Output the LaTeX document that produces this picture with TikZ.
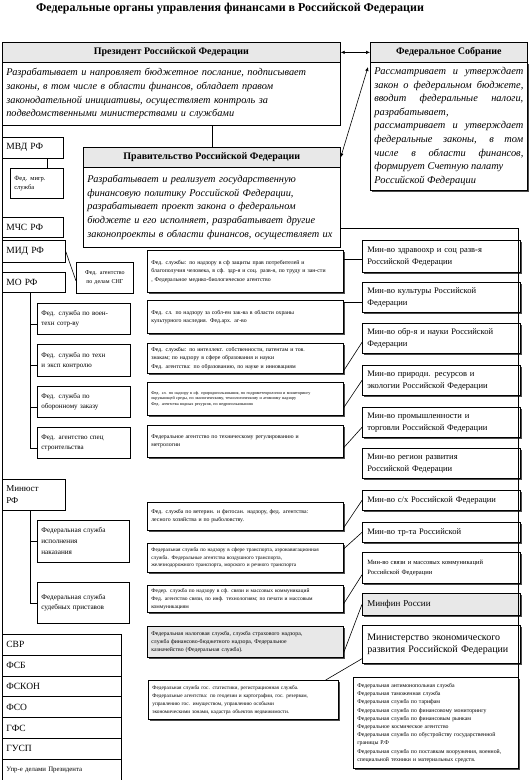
\documentclass[tikz,border=0pt]{standalone}
\usepackage{fontspec}
\setmainfont{Liberation Serif}
\usetikzlibrary{shadows,arrows.meta}

\tikzset{
  hdr/.style={draw, fill=gray!18, anchor=north west, inner sep=0pt, font=\bfseries\fontsize{10}{12}\selectfont},
  desc/.style={draw, fill=white, anchor=north west, inner xsep=4pt, inner ysep=2pt, align=left, font=\itshape\fontsize{10.3}{13.7}\selectfont},
  organ/.style={draw, fill=white, anchor=north west, inner xsep=4pt, inner ysep=1pt, align=left, font=\fontsize{9.5}{11}\selectfont},
  subunit/.style={draw, fill=white, anchor=north west, inner xsep=4pt, inner ysep=1pt, align=left, font=\fontsize{7}{10}\selectfont},
  agency/.style={draw, fill=white, boxshadow, anchor=north west, inner xsep=4pt, inner ysep=1pt, align=left, font=\fontsize{5.8}{8.3}\selectfont},
  ministry/.style={draw, fill=white, boxshadow, anchor=north west, inner xsep=5pt, inner ysep=1pt, align=left, font=\fontsize{8.5}{12}\selectfont},
  boxshadow/.style={drop shadow={shadow xshift=1.2pt, shadow yshift=-1.2pt, fill=black!70, opacity=1}},
  link/.style={line width=0.6pt},
  twoway/.style={link, {Latex[length=4pt,width=3.5pt]}-{Latex[length=4pt,width=3.5pt]}},
}

\begin{document}
\begin{tikzpicture}[x=1pt, y=-1pt, line width=0.7pt]
\useasboundingbox (0,0) rectangle (530,780);

% title
\node[font=\bfseries\fontsize{12}{14}\selectfont] (title) at (230,9) {Федеральные органы управления финансами в Российской Федерации};

% President, Federal Assembly, Government
\node[hdr, minimum width=338pt, minimum height=20pt] (presH) at (2,42) {Президент Российской Федерации};
\node[desc, text width=330pt, minimum height=63pt] (presT) at (2,62) {Разрабатывает и напровляет бюджетное послание, подписывает\\законы, в том числе в области финансов, обладает правом\\законодательной инициативы, осуществляет контроль за\\подведомственными министерствами и службами};

\node[hdr, minimum width=157pt, minimum height=20pt] (asmH) at (370,42) {Федеральное Собрание};
\node[desc, boxshadow, align=justify, text width=149pt, minimum height=128pt, font=\itshape\fontsize{10.4}{13.6}\selectfont] (asmT) at (370,62) {Рассматривает и утверждает\linebreak закон о федеральном бюджете,\linebreak вводит федеральные налоги,\linebreak разрабатывает,\\рассматривает и утверждает\linebreak федеральные законы, в том\linebreak числе в области финансов,\linebreak формирует Счетную палату\\Российской Федерации};

\node[hdr, minimum width=257pt, minimum height=20pt] (govH) at (83,147) {Правительство Российской Федерации};
\node[desc, text width=249pt, minimum height=80pt] (govT) at (83,167) {Разрабатывает и реализует государственную\\финансовую политику Российской Федерации,\\разрабатывает проект закона о федеральном\\бюджете и его исполняет, разрабатывает другие\\законопроекты в области финансов, осуществляет их};

\draw[twoway] (presH.east) -- (asmH.west);
\draw[twoway] ([shift={(-2pt,-5pt)}]asmT.north west) -- (govH.east);
\draw[link] (govH.north |- presT.south) -- (govH.north);

% ministries and services under the President
\node[organ, text width=53pt, minimum height=21pt] (mvd) at (2,137) {МВД РФ};
\node[subunit, text width=45pt, minimum height=30pt, font=\fontsize{6.5}{9}\selectfont] (fms) at (10,168) {Фед. мигр.\\служба};
\node[organ, text width=53pt, minimum height=20pt] (mchs) at (2,217) {МЧС РФ};
\node[organ, text width=55pt, minimum height=22pt] (mid) at (2,240) {МИД РФ};
\node[subunit, text width=49pt, minimum height=31pt, align=center, font=\fontsize{6}{8.5}\selectfont] (cis) at (76,262) {Фед. агентство\\по делам СНГ};
\node[organ, text width=55pt, minimum height=20pt] (mo) at (2,272) {МО РФ};
\node[subunit, text width=85pt, minimum height=31pt] (mo1) at (37,303) {Фед. служба по воен-\\техн сотр-ву};
\node[subunit, text width=85pt, minimum height=32pt] (mo2) at (37,344) {Фед. служба по техн\\и эксп контролю};
\node[subunit, text width=85pt, minimum height=31pt] (mo3) at (37,386) {Фед. служба по\\оборонному заказу};
\node[subunit, text width=85pt, minimum height=31pt] (mo4) at (37,427) {Фед. агентство спец\\строительства};
\node[organ, text width=55pt, minimum height=31pt, font=\fontsize{9}{12}\selectfont] (minjust) at (2,479) {Минюст\\РФ};
\node[subunit, text width=84pt, minimum height=42pt, font=\fontsize{7.2}{11}\selectfont] (mj1) at (37,520) {Федеральная служба\\исполнения\\наказания};
\node[subunit, text width=84pt, minimum height=41pt, font=\fontsize{7.2}{10}\selectfont] (mj2) at (37,582) {Федеральная служба\\судебных приставов};

\foreach \t [count=\i] in {СВР,ФСБ,ФСКОН,ФСО,ГФС,ГУСП}
  \node[organ, text width=111pt, minimum height=20.8pt] (s\i) at (2,{634+(\i-1)*20.8}) {\t};
\node[organ, text width=111pt, minimum height=20.8pt, font=\fontsize{6.8}{8}\selectfont] (s7) at (2,758.8) {Упр-е делами Президента};

\draw[link] (presT.south west) -- (s1.north west);
\draw[link] ([xshift=10pt]fms.north) -- ([xshift=10pt]fms.north |- mvd.south);
\draw[link] (mid.east) -- ([yshift=-3pt]cis.west);
\foreach \b in {mo1,mo2,mo3,mo4}
  \draw[link] ([xshift=-4pt]mo.south) |- ([yshift=-5pt]\b.west);
\foreach \b in {mj1,mj2}
  \draw[link] ([xshift=-4pt]minjust.south) |- (\b.west);

% federal services and agencies
\node[agency, text width=188pt, minimum height=42pt] (ag1) at (147,250) {Фед. службы: по надзору в сф защиты прав потребителей и\\благополучия человека, в сф. здр-я и соц. разв-я, по труду и зан-сти\\, Федеральное медико-биологическое агентство};
\node[agency, text width=188pt, minimum height=33pt] (ag2) at (147,300) {Фед. сл. по надзору за собл-ем зак-ва в области охраны\\культурного наследия. Фед.арх. аг-во};
\node[agency, text width=188pt, minimum height=30pt] (ag3) at (147,343) {Фед. службы: по интеллект. собственности, патентам и тов.\\знакам; по надзору в сфере образования и науки\\Фед. агентства: по образованию, по науке и инновациям};
\node[agency, text width=188pt, minimum height=33pt, font=\fontsize{4.2}{5.3}\selectfont] (ag4) at (147,382) {Фед. сл. по надзору в сф. природопользования, по гидрометеорологии и мониторингу\\окружающей среды, по экологическому, технологическому и атомному надзору\\Фед. агентства водных ресурсов, по недропользованию};
\node[agency, text width=188pt, minimum height=32pt] (ag5) at (147,425) {Федеральное агентство по техническому регулированию и\\метрологии};
\node[agency, text width=188pt, minimum height=28pt] (ag6) at (147,502) {Фед. служба по ветерин. и фитосан. надзору, фед. агентства:\\лесного хозяйства и по рыболовству.};
\node[agency, text width=188pt, minimum height=29pt, font=\fontsize{5.3}{7.5}\selectfont] (ag7) at (147,543) {Федеральная служба по надзору в сфере транспорта, аэронавигационная\\служба. Федеральные агентства воздушного транспорта,\\железнодорожного транспорта, морского и речного транспорта};
\node[agency, text width=188pt, minimum height=27pt, font=\fontsize{5.5}{7.8}\selectfont] (ag8) at (147,585) {Федер. служба по надзору в сф. связи и массовых коммуникаций\\Фед. агентство связи, по инф. технологиям; по печати и массовым\\коммуникациям};
\node[agency, fill=gray!18, text width=188pt, minimum height=31pt] (ag9) at (147,626) {Федеральная налоговая служба, служба страхового надзора,\\служба финансово-бюджетного надзора, Федеральное\\казначейство (Федеральная служба).};
\node[agency, text width=182pt, minimum height=39pt, font=\fontsize{5.3}{8}\selectfont] (ag10) at (148,680) {Федеральная служба гос. статистики, регистрационная служба.\\Федеральные агентства: по геодезии и картографии, гос. резервам,\\управлению гос. имуществом, управлению особыми\\экономическими зонами, кадастра объектов недвижимости.};

% ministries under the Government
\node[ministry, text width=148pt, minimum height=32pt] (m1) at (362,240) {Мин-во здравоохр и соц разв-я\\Российской Федерации};
\node[ministry, text width=148pt, minimum height=30pt] (m2) at (362,282) {Мин-во культуры Российской\\Федерации};
\node[ministry, text width=148pt, minimum height=30pt] (m3) at (362,323) {Мин-во обр-я и науки Российской\\Федерации};
\node[ministry, text width=148pt, minimum height=30pt] (m4) at (362,365) {Мин-во природн. ресурсов и\\экологии Российской Федерации};
\node[ministry, text width=148pt, minimum height=30pt] (m5) at (362,407) {Мин-во промышленности и\\торговли Российской Федерации};
\node[ministry, text width=148pt, minimum height=30pt] (m6) at (362,448) {Мин-во регион развития\\Российской Федерации};
\node[ministry, text width=148pt, minimum height=20pt] (m7) at (362,490) {Мин-во с/х Российской Федерации};
\node[ministry, text width=148pt, minimum height=20pt] (m8) at (362,522) {Мин-во тр-та Российской};
\node[ministry, text width=148pt, minimum height=31pt, font=\fontsize{6.5}{9.5}\selectfont] (m9) at (362,552) {Мин-во связи и массовых коммуникаций\\Российской Федерации};
\node[ministry, fill=gray!18, text width=148pt, minimum height=22pt, font=\fontsize{9}{11}\selectfont] (m10) at (362,593) {Минфин России};
\node[ministry, text width=148pt, minimum height=38pt, font=\fontsize{10}{12.5}\selectfont] (m11) at (362,625) {Министерство экономического\\развития Российской Федерации};
\node[agency, text width=157pt, minimum height=91pt, font=\fontsize{5.8}{8.2}\selectfont] (mOther) at (353,677) {Федеральная антимонопольная служба\\Федеральная таможенная служба\\Федеральная служба по тарифам\\Федеральная служба по финансовому мониторингу\\Федеральная служба по финансовым рынкам\\Федеральное космическое агентство\\Федеральная служба по обустройству государственной\\границы Р.Ф\\Федеральная служба по поставкам вооружения, военной,\\специальной техники и материальных средств.};

% connectors
\draw[link] ([yshift=-21pt]govT.east) -| (mOther.north east);
\draw[link] ([yshift=-3pt]m1.west) -- ([yshift=-3pt]m1.west -| ag1.east);
\draw[link] ([yshift=-5pt]m2.west) -- ([yshift=-5pt]m2.west -| ag2.east);
\draw[link] ([yshift=3pt]ag3.south east) -- ([yshift=-4pt]m3.west);
\draw[link] ([yshift=8pt]ag4.south east) -- (m4.west);
\draw[link] ([yshift=10pt]ag5.south east) -- ([yshift=-5pt]m5.west);
\draw[link] ([yshift=3pt]ag6.south east) -- (m7.west);
\draw[link] ([yshift=9pt]ag7.east) -- (m8.west);
\draw[link] ([yshift=9pt]ag8.south east) -- ([yshift=-7pt]m9.west);
\draw[link] ([yshift=5pt]ag9.south east) -- (m10.west);
\draw[link] ([xshift=-13pt]ag10.north east) -- ([yshift=5pt]m11.south west);
\end{tikzpicture}
\end{document}
